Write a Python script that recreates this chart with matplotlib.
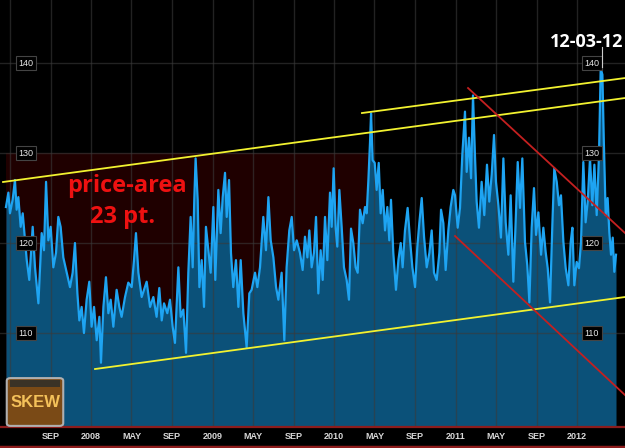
import matplotlib.pyplot as plt
from matplotlib.patches import Rectangle, FancyBboxPatch
from matplotlib.lines import Line2D
import matplotlib.transforms as mtransforms

# SKEW index, decimal year vs. value
dates = [
    2007.300, 2007.320, 2007.333, 2007.355, 2007.374, 2007.388, 2007.402, 2007.421, 2007.438, 2007.457,
    2007.471, 2007.492, 2007.520, 2007.539, 2007.567, 2007.594, 2007.613, 2007.630, 2007.649, 2007.668,
    2007.690, 2007.712, 2007.731, 2007.750, 2007.772, 2007.800, 2007.827, 2007.849, 2007.868, 2007.888,
    2007.904, 2007.923, 2007.942, 2007.964, 2007.986, 2008.005, 2008.025, 2008.047, 2008.069, 2008.082,
    2008.102, 2008.123, 2008.143, 2008.162, 2008.184, 2008.211, 2008.233, 2008.252, 2008.280, 2008.307,
    2008.335, 2008.354, 2008.370, 2008.390, 2008.417, 2008.436, 2008.458,
    2008.486, 2008.513, 2008.540, 2008.562, 2008.582, 2008.601, 2008.628, 2008.650, 2008.672, 2008.691,
    2008.719, 2008.738, 2008.760, 2008.782, 2008.801, 2008.820, 2008.837, 2008.850, 2008.861, 2008.878,
    2008.892, 2008.911, 2008.930, 2008.946, 2008.966, 2008.985, 2009.007, 2009.023, 2009.048, 2009.067,
    2009.084, 2009.103, 2009.117, 2009.136, 2009.152, 2009.171, 2009.193, 2009.213, 2009.232, 2009.254,
    2009.281, 2009.303, 2009.322, 2009.350, 2009.369, 2009.391, 2009.418, 2009.440, 2009.460, 2009.479,
    2009.501, 2009.523, 2009.542, 2009.569, 2009.591, 2009.610, 2009.632, 2009.652, 2009.671, 2009.693,
    2009.720, 2009.742, 2009.761, 2009.781, 2009.797, 2009.816, 2009.835, 2009.852, 2009.871, 2009.890,
    2009.907, 2009.926, 2009.945, 2009.967, 2009.981, 2009.997, 2010.014, 2010.027, 2010.044, 2010.063,
    2010.082, 2010.104, 2010.123, 2010.140, 2010.159, 2010.178, 2010.195, 2010.214, 2010.236, 2010.255,
    2010.269, 2010.283, 2010.296, 2010.305, 2010.318, 2010.335, 2010.351, 2010.368, 2010.384, 2010.401,
    2010.420, 2010.439, 2010.455, 2010.469, 2010.488, 2010.510, 2010.530, 2010.549, 2010.565, 2010.584,
    2010.606, 2010.626, 2010.645, 2010.667, 2010.686, 2010.702, 2010.722, 2010.741, 2010.763, 2010.785,
    2010.804, 2010.823, 2010.845, 2010.867, 2010.881, 2010.900, 2010.919, 2010.941, 2010.960, 2010.982,
    2010.996, 2011.018, 2011.037, 2011.056, 2011.078, 2011.092, 2011.111, 2011.128, 2011.144, 2011.160,
    2011.174, 2011.193, 2011.215, 2011.237, 2011.259, 2011.278, 2011.298, 2011.317, 2011.333, 2011.353,
    2011.374, 2011.394, 2011.413, 2011.435, 2011.454, 2011.476, 2011.495, 2011.512, 2011.531, 2011.550,
    2011.572, 2011.591, 2011.608, 2011.627, 2011.646, 2011.663, 2011.682, 2011.704, 2011.723, 2011.742,
    2011.759, 2011.778, 2011.797, 2011.813, 2011.833, 2011.852, 2011.868, 2011.888, 2011.907, 2011.929,
    2011.948, 2011.962, 2011.978, 2011.997, 2012.016, 2012.033, 2012.052, 2012.071, 2012.088, 2012.107,
    2012.126, 2012.143, 2012.162, 2012.181, 2012.195, 2012.209, 2012.220, 2012.236, 2012.252, 2012.266,
    2012.280, 2012.294, 2012.307, 2012.321,
]
skew = [
    124.0, 125.6, 123.3, 124.8, 127.0, 123.7, 125.1, 121.8, 123.3, 120.3,
    118.1, 115.9, 121.8, 117.3, 113.3, 121.1, 119.2, 126.8, 120.3, 121.8,
    117.3, 118.9, 122.9, 121.8, 118.4, 116.7, 115.1, 116.7, 120.0, 114.4,
    111.4, 112.9, 110.0, 113.7, 115.7, 110.7, 112.9, 109.2, 111.8, 106.7,
    112.9, 116.2, 112.2, 113.7, 110.7, 114.8, 112.9, 111.8, 114.0, 115.6,
    115.1, 118.1, 121.1, 116.7, 114.0, 114.8, 115.7,
    112.9, 114.0, 111.8, 115.0, 111.4, 113.3, 112.2, 113.7, 110.7, 108.9,
    117.3, 111.8, 112.6, 107.8, 116.7, 122.9, 117.3, 124.8, 129.4, 124.8,
    115.1, 118.1, 112.9, 121.8, 119.2, 116.7, 124.0, 115.9, 125.9, 121.1,
    125.1, 127.8, 122.9, 127.0, 118.9, 115.1, 118.1, 112.9, 118.1, 112.2,
    108.4, 114.4, 114.8, 116.7, 115.1, 117.3, 122.9, 119.2, 125.1, 120.3,
    118.4, 115.1, 113.7, 116.7, 109.2, 117.3, 121.4, 122.9, 119.2, 120.3,
    118.9, 117.0, 120.7, 118.4, 121.4, 117.3, 118.9, 122.9, 114.4, 119.2,
    115.9, 122.9, 118.1, 125.6, 121.8, 128.3, 121.6, 119.6, 125.9, 121.8,
    117.3, 115.9, 113.7, 121.6, 120.0, 117.3, 116.7, 123.7, 122.2, 124.0,
    123.3, 127.0, 131.1, 134.4, 129.2, 128.9, 125.9, 128.9, 123.3, 125.9,
    121.4, 124.0, 120.3, 124.8, 118.9, 114.8, 118.1, 120.0, 117.3, 121.4,
    123.9, 120.3, 117.3, 115.1, 119.6, 122.2, 125.0, 120.7, 117.3, 118.9,
    121.4, 116.7, 115.9, 118.9, 123.7, 122.2, 117.0, 121.4, 124.0, 125.9,
    125.3, 121.7, 123.9, 129.8, 134.6, 127.9, 131.7, 127.2, 136.4, 129.8,
    124.6, 121.7, 126.8, 123.1, 128.7, 124.6, 127.6, 132.0, 126.8, 124.2,
    120.6, 129.4, 122.3, 118.7, 125.3, 115.7, 122.3, 129.0, 123.9, 129.4,
    120.1, 117.5, 113.4, 121.7, 126.1, 120.9, 123.4, 118.7, 121.7, 119.0,
    117.2, 113.4, 122.0, 128.3, 126.8, 124.2, 125.3, 120.1, 117.2, 115.3,
    120.1, 121.7, 115.3, 117.9, 117.2, 120.1, 129.0, 122.3, 124.6, 129.4,
    124.2, 128.7, 123.1, 129.8, 139.4, 138.7, 131.7, 123.1, 125.0, 121.2,
    118.7, 120.6, 116.8, 118.7,
]

# axis ticks
tick_pos = [2007.333, 2007.667, 2008.0, 2008.333, 2008.667, 2009.0, 2009.333, 2009.667,
            2010.0, 2010.333, 2010.667, 2011.0, 2011.333, 2011.667, 2012.0]
tick_lbl = ['', 'SEP', '2008', 'MAY', 'SEP', '2009', 'MAY', 'SEP',
            '2010', 'MAY', 'SEP', '2011', 'MAY', 'SEP', '2012']
levels = [110, 120, 130, 140]

# drawn trend lines (start/end as date, value)
yellow_top_x, yellow_top_y = [2007.276, 2012.395], [126.78, 136.11]
yellow_hi_x, yellow_hi_y = [2010.230, 2012.395], [134.44, 138.33]
yellow_low_x, yellow_low_y = [2008.033, 2012.395], [106.0, 114.0]
red_hi_x, red_hi_y = [2011.103, 2012.395], [137.22, 121.11]
red_low_x, red_low_y = [2010.996, 2012.395], [120.78, 103.11]

# price area box and peak label
area_x0, area_x1 = 2007.300, 2010.296
area_top = 130
peak_date, peak_val, peak_lbl = 2012.206, 139.6, '12-03-12'

YMIN, YMAX = 99.67, 147.0

fig = plt.figure(figsize=(6.25, 4.48), dpi=100, facecolor='black')
ax = fig.add_axes([0, 22 / 448, 1, 426 / 448])
ax.set_facecolor('black')
ax.set_xlim(2007.251, 2012.395)
ax.set_ylim(YMIN, YMAX)
for s in ax.spines.values():
    s.set_visible(False)

ax.add_patch(Rectangle((area_x0, YMIN), area_x1 - area_x0, area_top - YMIN,
                       facecolor='#1f0000', edgecolor='none', zorder=0.5))
ax.fill_between(dates, skew, YMIN, color='#0b5179', lw=0, zorder=1)
ax.plot(dates, skew, color='#1ea4f2', lw=1.6, zorder=2)

ax.set_axisbelow('line')
ax.set_xticks(tick_pos)
ax.set_xticklabels(tick_lbl)
ax.set_yticks(levels)
ax.set_yticklabels([])
ax.grid(True, color='#3a3a3a', lw=1, alpha=0.6)
ax.tick_params(length=0, colors='#d8d8d8', labelsize=6.5, pad=4)
for t in ax.get_xticklabels():
    t.set_fontweight('bold')
    t.set_family('Liberation Sans')

for xs, ys in [(yellow_top_x, yellow_top_y), (yellow_hi_x, yellow_hi_y), (yellow_low_x, yellow_low_y)]:
    ax.plot(xs, ys, color='#f2f230', lw=1.3, zorder=3)
for xs, ys in [(red_hi_x, red_hi_y), (red_low_x, red_low_y)]:
    ax.plot(xs, ys, color='#c42020', lw=1.3, zorder=3)

# value boxes on both sides
trans = mtransforms.blended_transform_factory(ax.transAxes, ax.transData)
for v in levels:
    for xf in (0.0416, 0.947):
        ax.text(xf, v, str(v), transform=trans, ha='center', va='center',
                fontsize=6.5, color='#e8e8e8', family='Liberation Sans', zorder=5,
                bbox=dict(boxstyle='square,pad=0.3', fc='black', ec='#444444', lw=0.8))

ax.text(2008.296, 126.3, 'price-area', color='#ee1111', fontsize=17, fontweight='bold',
        family='Open Sans', ha='center', va='center', zorder=4)
ax.text(2008.263, 122.9, '23 pt.', color='#ee1111', fontsize=17, fontweight='bold',
        family='Open Sans', ha='center', va='center', zorder=4)

ax.text(peak_date - 0.13, 142.3, peak_lbl, color='white', fontsize=13, fontweight='bold',
        family='Open Sans', ha='center', va='center', zorder=5)
ax.plot([peak_date, peak_date], [peak_val, 141.8], color='#cccccc', lw=0.8, zorder=5)

# bottom red rules
fig.add_artist(Line2D([0, 1], [21.5 / 448, 21.5 / 448], color='#8c1c1c', lw=1.6))
fig.add_artist(Line2D([0, 1], [1.5 / 448, 1.5 / 448], color='#8c1c1c', lw=2.5))

# SKEW badge
badge = FancyBboxPatch((8 / 625, 23 / 448), 54 / 625, 46 / 448,
                       boxstyle='round,pad=0.002,rounding_size=0.006',
                       transform=fig.transFigure, fc='#7a4a16', ec='#b0b0b0', lw=1.5, zorder=10)
fig.add_artist(badge)
fig.add_artist(Rectangle((10 / 625, 61 / 448), 50 / 625, 7 / 448, transform=fig.transFigure,
                         fc='#3a3226', ec='none', zorder=11))
fig.text(35.5 / 625, 46 / 448, 'SKEW', color='#f4c15a', fontsize=12, fontweight='bold',
         family='Liberation Sans', ha='center', va='center', zorder=12)

fig.savefig('out.png', dpi=100, facecolor='black')
